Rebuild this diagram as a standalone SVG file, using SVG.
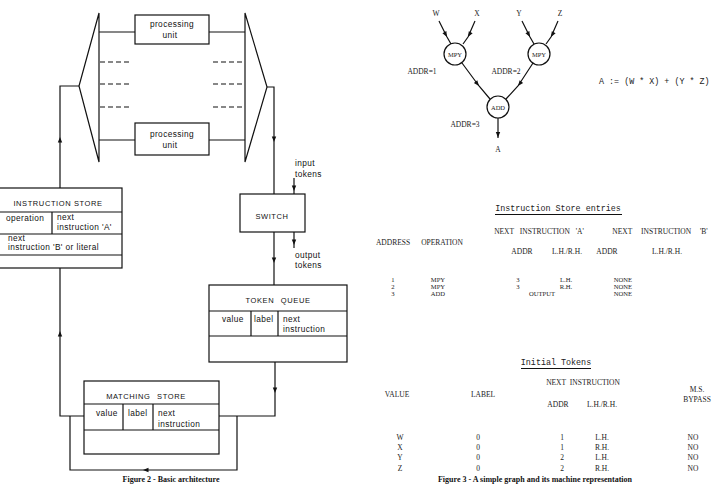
<svg xmlns="http://www.w3.org/2000/svg" xmlns:xlink="http://www.w3.org/1999/xlink" width="725" height="484" viewBox="0 0 725 484">
<style>
.ln{fill:none;stroke:#111;stroke-width:1.2}
.bx{fill:#fff;stroke:#111;stroke-width:1.2}
.dash{fill:none;stroke:#111;stroke-width:1.2;stroke-dasharray:5,3}
.hand{font-family:"Liberation Sans","DejaVu Sans",sans-serif;font-size:8.3px;fill:#111;letter-spacing:0.4px}
.cap{font-family:"Liberation Sans","DejaVu Sans",sans-serif;font-size:7.5px;fill:#111;letter-spacing:0.6px;text-anchor:middle}
.mid{text-anchor:middle}
.ser{font-family:"Liberation Serif","DejaVu Serif",serif;font-size:7.5px;fill:#222}
.tb{font-family:"Liberation Serif","DejaVu Serif",serif;font-size:7.5px;fill:#222;text-anchor:middle;word-spacing:2px}
.row{font-family:"Liberation Serif","DejaVu Serif",serif;font-size:6.6px;fill:#222;text-anchor:middle}
.mono{font-family:"Liberation Mono","DejaVu Sans Mono",monospace;font-size:8.4px;fill:#222}
.capt{font-family:"Liberation Serif","DejaVu Serif",serif;font-size:8px;font-weight:bold;fill:#111;text-anchor:middle}
.ah{fill:#111}
</style>
<defs>
<path id="ah" class="ah" d="M0,0 L-2.2,-5.5 L2.2,-5.5 Z"/>
<marker id="mk" markerUnits="userSpaceOnUse" markerWidth="8" markerHeight="8" refX="0" refY="0" viewBox="-7 -4 8 8" orient="auto"><path d="M0,0 L-5.5,-2.2 L-5.5,2.2 Z" fill="#111"/></marker>
</defs>
<rect width="725" height="484" fill="#fff"/>

<!-- Figure 2 -->
<g id="distributor-left"><polygon class="ln" points="99,13 79,86 99,162"/></g>
<g id="distributor-right"><polygon class="ln" points="245,13 267,87 245,162"/></g>
<g id="pu-top">
<rect class="bx" x="135" y="15" width="74" height="29"/>
<text class="hand mid" x="172" y="27">processing</text>
<text class="hand mid" x="170" y="38">unit</text>
</g>
<g id="pu-bottom">
<rect class="bx" x="135" y="123" width="74" height="32"/>
<text class="hand mid" x="172" y="137">processing</text>
<text class="hand mid" x="170" y="148">unit</text>
</g>
<g id="instruction-store">
<rect class="bx" x="-2" y="188" width="124" height="80"/>
<path class="ln" d="M0,212 H122 M0,234 H122 M0,255 H122 M52,212 V234"/>
<text class="cap" x="58" y="206">INSTRUCTION STORE</text>
<text class="hand" x="6" y="221">operation</text>
<text class="hand" x="57" y="220">next</text>
<text class="hand" x="57" y="230">instruction 'A'</text>
<text class="hand" x="8" y="241">next</text>
<text class="hand" x="8" y="250">instruction 'B' or literal</text>
</g>
<g id="switch">
<rect class="bx" x="240" y="194" width="65" height="38"/>
<text class="cap" x="272" y="219">SWITCH</text>
</g>
<g id="token-queue">
<rect class="bx" x="209" y="285" width="138" height="77"/>
<path class="ln" d="M209,311 H347 M209,336 H347 M251,311 V336 M278,311 V336"/>
<text class="cap" x="278" y="303" style="word-spacing:4px">TOKEN QUEUE</text>
<text class="hand" x="222" y="322">value</text>
<text class="hand" x="254" y="322">label</text>
<text class="hand" x="283" y="322">next</text>
<text class="hand" x="283" y="332">instruction</text>
</g>
<g id="matching-store">
<rect class="bx" x="84" y="381" width="135" height="73"/>
<path class="ln" d="M84,404 H219 M84,430 H219 M123,404 V430 M153,404 V430"/>
<text class="cap" x="146" y="399" style="word-spacing:4px">MATCHING STORE</text>
<text class="hand" x="96" y="416">value</text>
<text class="hand" x="128" y="416">label</text>
<text class="hand" x="158" y="416">next</text>
<text class="hand" x="158" y="427">instruction</text>
</g>
<g id="fig2-labels">
<text class="hand" x="295" y="166">input</text>
<text class="hand" x="295" y="177">tokens</text>
<text class="hand" x="295" y="258">output</text>
<text class="hand" x="295" y="268">tokens</text>
</g>
<g id="connectors-fig2">
<path class="ln" d="M99,32 H135 M209,32 H245 M99,140 H135 M209,140 H245"/>
<path class="dash" d="M100,62 H130 M100,84 H130 M100,107 H130 M213,62 H245 M213,84 H245 M213,107 H245"/>
<path class="ln" d="M79,86 H60 V188"/>
<path class="ln" d="M60,268 V416 H84"/>
<path class="ln" d="M267,87 H274 V194"/>
<path class="ln" d="M274,232 V285"/>
<path class="ln" d="M294,178 V194"/>
<path class="ln" d="M294,232 V248"/>
<path class="ln" d="M275,362 V416 H219"/>
<path class="ln" d="M237,416 V470 H70 V416"/>
<use xlink:href="#ah" transform="translate(60,137) rotate(180)"/>
<use xlink:href="#ah" transform="translate(60,331) rotate(180)"/>
<use xlink:href="#ah" transform="translate(274,142)"/>
<use xlink:href="#ah" transform="translate(274,263)"/>
<use xlink:href="#ah" transform="translate(294,191)"/>
<use xlink:href="#ah" transform="translate(294,245)"/>
<use xlink:href="#ah" transform="translate(275,393)"/>
<use xlink:href="#ah" transform="translate(143,470) rotate(90)"/>
</g>

<!-- Figure 3 graph -->
<g id="node-mpy1"><circle class="bx" cx="455" cy="54" r="11"/><text class="ser mid" x="455" y="57" style="font-size:6.5px">MPY</text></g>
<g id="node-mpy2"><circle class="bx" cx="539" cy="54" r="11"/><text class="ser mid" x="539" y="57" style="font-size:6.5px">MPY</text></g>
<g id="node-add"><circle class="bx" cx="498" cy="107" r="11"/><text class="ser mid" x="498" y="110" style="font-size:6.5px">ADD</text></g>
<g id="graph-labels">
<text class="ser mid" x="436" y="16">W</text>
<text class="ser mid" x="477" y="16">X</text>
<text class="ser mid" x="519" y="16">Y</text>
<text class="ser mid" x="560" y="16">Z</text>
<text class="ser mid" x="422" y="74">ADDR=1</text>
<text class="ser mid" x="506" y="74">ADDR=2</text>
<text class="ser mid" x="465" y="127">ADDR=3</text>
<text class="ser mid" x="498" y="152">A</text>
<text class="mono" x="599" y="84">A := (W * X) + (Y * Z)</text>
</g>
<g id="connectors-fig3" class="ln" marker-mid="url(#mk)">
<polyline points="439,21 447,37 451,44"/>
<polyline points="475,21 468,37 463,44"/>
<polyline points="522,21 530,37 534,44"/>
<polyline points="558,21 551,37 546,44"/>
<polyline points="462,63 479,86 490,99"/>
<polyline points="533,63 518,86 506,99"/>
<polyline points="498,118 498,137.5 498,138"/>
</g>

<!-- Instruction store table -->
<g id="table-instructions">
<text class="mono" x="558" y="211" text-anchor="middle">Instruction Store entries</text>
<path class="ln" d="M495,214.5 H622" stroke-width="0.8"/>
<text class="tb" x="539" y="234" style="word-spacing:4px">NEXT INSTRUCTION 'A'</text>
<text class="tb" x="660" y="234" style="word-spacing:7px">NEXT INSTRUCTION 'B'</text>
<text class="tb" x="393" y="245">ADDRESS</text>
<text class="tb" x="442" y="245">OPERATION</text>
<text class="tb" x="522" y="254">ADDR</text>
<text class="tb" x="567" y="254">L.H./R.H.</text>
<text class="tb" x="607" y="254">ADDR</text>
<text class="tb" x="667" y="254">L.H./R.H.</text>
<text class="row" x="393" y="282">1</text><text class="row" x="438" y="282">MPY</text><text class="row" x="518" y="282">3</text><text class="row" x="566" y="282">L.H.</text><text class="row" x="623" y="282">NONE</text>
<text class="row" x="393" y="289">2</text><text class="row" x="438" y="289">MPY</text><text class="row" x="518" y="289">3</text><text class="row" x="566" y="289">R.H.</text><text class="row" x="623" y="289">NONE</text>
<text class="row" x="393" y="296">3</text><text class="row" x="438" y="296">ADD</text><text class="row" x="542" y="296">OUTPUT</text><text class="row" x="623" y="296">NONE</text>
</g>

<!-- Initial tokens table -->
<g id="table-tokens">
<text class="mono" x="556" y="365" text-anchor="middle">Initial Tokens</text>
<path class="ln" d="M521,368.5 H591" stroke-width="0.8"/>
<text class="tb" x="583" y="385">NEXT INSTRUCTION</text>
<text class="tb" x="397" y="397">VALUE</text>
<text class="tb" x="483" y="397">LABEL</text>
<text class="tb" x="558" y="407">ADDR</text>
<text class="tb" x="602" y="407">L.H./R.H.</text>
<text class="tb" x="697" y="392">M.S.</text>
<text class="tb" x="697" y="402">BYPASS</text>
<text class="tb" x="400" y="440">W</text><text class="tb" x="478" y="440">0</text><text class="tb" x="562" y="440">1</text><text class="tb" x="602" y="440">L.H.</text><text class="tb" x="693" y="440">NO</text>
<text class="tb" x="400" y="450">X</text><text class="tb" x="478" y="450">0</text><text class="tb" x="562" y="450">1</text><text class="tb" x="602" y="450">R.H.</text><text class="tb" x="693" y="450">NO</text>
<text class="tb" x="400" y="460">Y</text><text class="tb" x="478" y="460">0</text><text class="tb" x="562" y="460">2</text><text class="tb" x="602" y="460">L.H.</text><text class="tb" x="693" y="460">NO</text>
<text class="tb" x="400" y="470.5">Z</text><text class="tb" x="478" y="470.5">0</text><text class="tb" x="562" y="470.5">2</text><text class="tb" x="602" y="470.5">R.H.</text><text class="tb" x="693" y="470.5">NO</text>
</g>

<g id="captions">
<text class="capt" x="171" y="481.5">Figure 2 - Basic architecture</text>
<text class="capt" x="535" y="481.5">Figure 3 - A simple graph and its machine representation</text>
</g>
</svg>
